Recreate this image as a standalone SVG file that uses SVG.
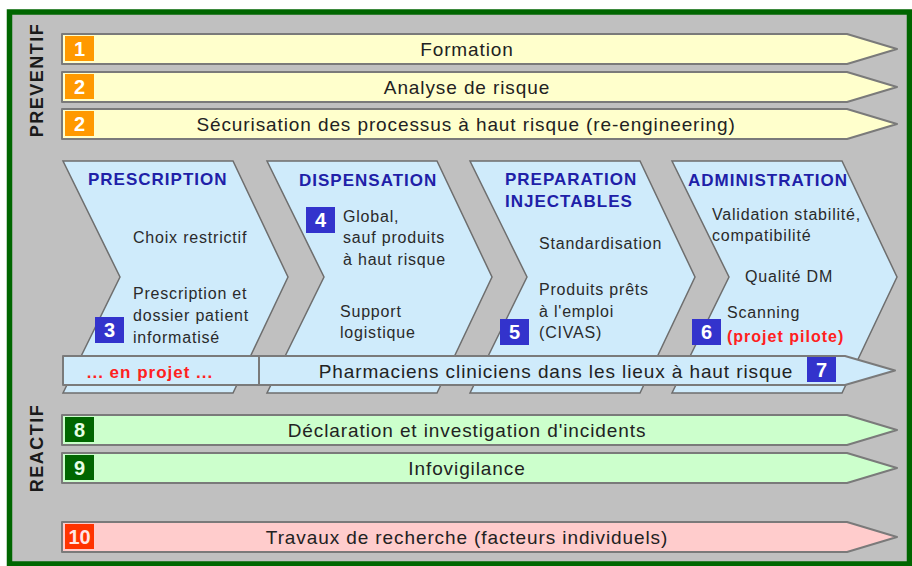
<svg xmlns="http://www.w3.org/2000/svg" width="912" height="566" viewBox="0 0 912 566">
<defs>
<style>
.bar{stroke:#7a7a7a;stroke-width:2;stroke-linejoin:round}
.y{fill:#ffffcc}.g{fill:#ccffcc}.r{fill:#ffcccc}.b{fill:#cfebfb}
.chev{fill:#cfebfb;stroke:#6e6e6e;stroke-width:1.5}
.bt{font-family:"Liberation Sans",Arial,sans-serif;font-size:19px;letter-spacing:0.9px;fill:#222;text-anchor:middle}
.num{font-family:"Liberation Sans",Arial,sans-serif;font-size:20px;font-weight:bold;text-anchor:middle;fill:#fff}
.hd{font-family:"Liberation Sans",Arial,sans-serif;font-size:17px;font-weight:bold;letter-spacing:1px;fill:#2020a8}
.tx{font-family:"Liberation Sans",Arial,sans-serif;font-size:16px;letter-spacing:0.8px;fill:#2a2a2a}
.red{font-family:"Liberation Sans",Arial,sans-serif;font-weight:bold;letter-spacing:1px;fill:#ff2020}
.side{font-family:"Liberation Sans",Arial,sans-serif;font-size:18px;font-weight:bold;letter-spacing:1.5px;fill:#1a1a1a;text-anchor:middle}
</style>
</defs>
<rect x="0" y="0" width="912" height="566" fill="#ffffff"/>
<rect x="9.5" y="12" width="900" height="552" fill="#c0c0c0" stroke="#006600" stroke-width="5.5"/>

<text class="side" transform="translate(43,80) rotate(-90)">PREVENTIF</text>
<text class="side" transform="translate(43,448) rotate(-90)">REACTIF</text>

<g id="bar1">
<path class="bar y" d="M62,34H847L897,49L847,64H62Z"/>
<rect x="65" y="36" width="29" height="25" fill="#ff9900"/>
<text class="num" x="79.5" y="56">1</text>
<text class="bt" x="467" y="56">Formation</text>
</g>
<g id="bar2">
<path class="bar y" d="M62,72H847L897,87L847,102H62Z"/>
<rect x="65" y="74" width="29" height="25" fill="#ff9900"/>
<text class="num" x="79.5" y="94">2</text>
<text class="bt" x="467" y="94">Analyse de risque</text>
</g>
<g id="bar3">
<path class="bar y" d="M62,109H847L897,124L847,139H62Z"/>
<rect x="65" y="111" width="29" height="25" fill="#ff9900"/>
<text class="num" x="79.5" y="131">2</text>
<text class="bt" x="466" y="131">Sécurisation des processus à haut risque (re-engineering)</text>
</g>

<g id="prescription">
<path class="chev" d="M63,161H233L288,277L233,393H63L120,277Z"/>
<text class="hd" x="88" y="185">PRESCRIPTION</text>
<text class="tx" x="133" y="243">Choix restrictif</text>
<text class="tx" x="133" y="299">Prescription et</text>
<text class="tx" x="133" y="321">dossier patient</text>
<text class="tx" x="133" y="343">informatisé</text>
<rect x="95" y="317" width="29" height="26" fill="#3333cc"/>
<text class="num" x="109.5" y="337">3</text>
</g>
<g id="dispensation">
<path class="chev" d="M267,161H437L492,277L437,393H267L324,277Z"/>
<text class="hd" x="299" y="186">DISPENSATION</text>
<text class="tx" x="343" y="222">Global,</text>
<text class="tx" x="343" y="243">sauf produits</text>
<text class="tx" x="343" y="265">à haut risque</text>
<text class="tx" x="340" y="317">Support</text>
<text class="tx" x="340" y="338">logistique</text>
<rect x="306" y="207" width="29" height="26" fill="#3333cc"/>
<text class="num" x="320.5" y="227">4</text>
</g>
<g id="preparation">
<path class="chev" d="M470,161H640L695,277L640,393H470L527,277Z"/>
<text class="hd" x="505" y="185">PREPARATION</text>
<text class="hd" x="505" y="207">INJECTABLES</text>
<text class="tx" x="539" y="249">Standardisation</text>
<text class="tx" x="539" y="295">Produits prêts</text>
<text class="tx" x="539" y="317">à l'emploi</text>
<text class="tx" x="539" y="338">(CIVAS)</text>
<rect x="500" y="319" width="29" height="26" fill="#3333cc"/>
<text class="num" x="514.5" y="339">5</text>
</g>
<g id="administration">
<path class="chev" d="M672,161H842L897,277L842,393H672L729,277Z"/>
<text class="hd" x="688" y="186">ADMINISTRATION</text>
<text class="tx" x="712" y="220">Validation stabilité,</text>
<text class="tx" x="712" y="241">compatibilité</text>
<text class="tx" x="745" y="282">Qualité DM</text>
<text class="tx" x="727" y="318">Scanning</text>
<text class="red" x="727" y="342" font-size="16">(projet pilote)</text>
<rect x="692" y="319" width="29" height="26" fill="#3333cc"/>
<text class="num" x="706.5" y="339">6</text>
</g>

<g id="en-projet">
<rect class="bar b" x="63" y="356" width="196" height="29" stroke-width="1.5"/>
<text class="red" x="150" y="378" font-size="17" text-anchor="middle">... en projet ...</text>
</g>
<g id="pharmaciens">
<path class="bar b" stroke-width="1.5" d="M259,356H845L895,370.5L845,385H259Z"/>
<text class="bt" x="556" y="378">Pharmaciens cliniciens dans les lieux à haut risque</text>
<rect x="807" y="357" width="29" height="25" fill="#3333cc"/>
<text class="num" x="821.5" y="377">7</text>
</g>

<g id="bar8">
<path class="bar g" d="M62,415H847L897,430L847,445H62Z"/>
<rect x="65" y="417" width="29" height="25" fill="#006600"/>
<text class="num" x="79.5" y="437" fill="#e6ffe6" style="fill:#e6ffe6">8</text>
<text class="bt" x="467" y="437">Déclaration et investigation d'incidents</text>
</g>
<g id="bar9">
<path class="bar g" d="M62,453H847L897,468L847,483H62Z"/>
<rect x="65" y="455" width="29" height="25" fill="#006600"/>
<text class="num" x="79.5" y="475" style="fill:#e6ffe6">9</text>
<text class="bt" x="467" y="475">Infovigilance</text>
</g>
<g id="bar10">
<path class="bar r" d="M62,522H847L897,537L847,552H62Z"/>
<rect x="65" y="524" width="29" height="25" fill="#ff3300"/>
<text class="num" x="79.5" y="544" style="fill:#ffe6e6">10</text>
<text class="bt" x="467" y="544">Travaux de recherche (facteurs individuels)</text>
</g>
<g id="connectors"/>
</svg>
